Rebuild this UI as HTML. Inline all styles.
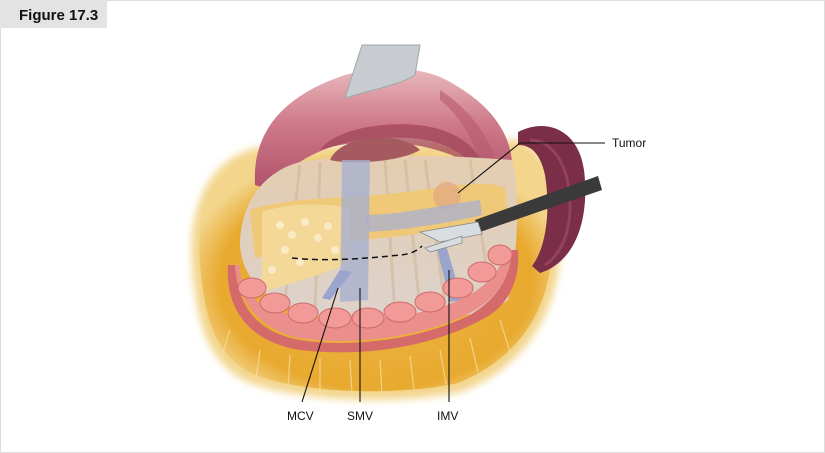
<!DOCTYPE html>
<html><head><style>
html,body{margin:0;padding:0;background:#fff}
svg{display:block}
text{font-family:"Liberation Sans",Arial,sans-serif}
</style></head><body>
<svg width="825" height="453" viewBox="0 0 825 453" xmlns="http://www.w3.org/2000/svg">
<defs>
<radialGradient id="fat" cx="0.5" cy="0.55" r="0.55">
<stop offset="0" stop-color="#efb94a"/><stop offset="0.8" stop-color="#e8a92e"/><stop offset="1" stop-color="#f3d58c"/>
</radialGradient>
<linearGradient id="mes" x1="0" y1="0" x2="0" y2="1">
<stop offset="0" stop-color="#e4cdb0"/><stop offset="1" stop-color="#ddd2cc"/>
</linearGradient>
<linearGradient id="pinkg" x1="0" y1="0" x2="0" y2="1">
<stop offset="0" stop-color="#e9b9be"/><stop offset="0.45" stop-color="#cf7a8a"/><stop offset="1" stop-color="#b0506a"/>
</linearGradient>
<filter id="blur"><feGaussianBlur stdDeviation="4"/></filter>
</defs>
<rect x="0.5" y="0.5" width="824" height="452" fill="#fff" stroke="#ddd"/>
<rect x="0" y="0" width="107" height="28" fill="#e3e3e3"/>
<text x="19" y="20" font-size="15" font-weight="bold" fill="#111">Figure 17.3</text>

<!-- fat -->
<path d="M192 265 C188 205 210 160 255 148 L520 140 C555 155 565 200 560 255 C555 320 520 370 460 392 C400 405 300 402 248 382 C205 362 196 315 192 265 Z" fill="#f3d58c" filter="url(#blur)"/>
<path d="M200 262 C196 210 218 168 258 155 L515 148 C548 162 556 200 552 252 C548 315 515 360 458 383 C400 396 305 394 255 375 C212 355 204 312 200 262 Z" fill="url(#fat)"/>
<g stroke="#f7e2b0" stroke-width="1.2" opacity="0.7">
<line x1="260" y1="350" x2="256" y2="380"/><line x1="290" y1="355" x2="288" y2="388"/><line x1="320" y1="358" x2="320" y2="392"/><line x1="350" y1="360" x2="352" y2="394"/><line x1="380" y1="360" x2="382" y2="394"/><line x1="410" y1="356" x2="414" y2="390"/><line x1="440" y1="350" x2="446" y2="384"/><line x1="470" y1="338" x2="478" y2="372"/><line x1="500" y1="320" x2="510" y2="352"/><line x1="230" y1="330" x2="222" y2="355"/>
</g>
<!-- pink upper -->
<path d="M255 185 C252 130 285 95 345 75 C380 65 425 65 455 85 C495 108 515 140 512 175 C505 190 495 192 485 185 C475 160 450 140 410 138 C350 135 300 150 270 190 Z" fill="url(#pinkg)"/>
<path d="M440 90 C470 110 495 140 500 180 L485 188 C480 150 465 120 440 100 Z" fill="#b85a70" opacity="0.6"/>
<path d="M320 150 C335 128 395 118 435 128 C462 135 480 150 488 175 L458 158 C420 140 360 137 320 150 Z" fill="#a1475a" opacity="0.75"/>
<!-- retractor -->
<path d="M362 45 L420 45 L415 75 C400 85 370 90 345 98 Z" fill="#c8ccd0" stroke="#9aa" stroke-width="1"/>
<!-- mesentery -->
<path d="M240 245 C240 205 262 172 300 162 C360 152 440 155 512 160 C522 200 516 260 508 300 C480 322 400 322 320 316 C272 306 242 282 240 245 Z" fill="url(#mes)"/>
<g stroke="#cdb393" stroke-width="3" opacity="0.5">
<line x1="300" y1="165" x2="285" y2="300"/><line x1="320" y1="162" x2="315" y2="310"/><line x1="385" y1="160" x2="395" y2="315"/><line x1="405" y1="160" x2="420" y2="310"/><line x1="425" y1="160" x2="445" y2="305"/><line x1="470" y1="160" x2="490" y2="290"/>
</g>
<path d="M330 160 C340 135 400 130 420 150 C400 162 350 165 330 160 Z" fill="#a45a5e"/>
<!-- pancreas -->
<path d="M250 210 C290 195 360 200 420 190 C460 185 490 180 505 188 L508 215 C470 225 420 235 380 238 C330 245 290 250 255 258 Z" fill="#efc878"/>
<path d="M262 212 C290 202 330 203 350 208 L350 262 C320 276 285 285 262 292 Z" fill="#f4d898"/>
<g fill="#fbf0d0" opacity="0.8">
<circle cx="280" cy="225" r="4"/><circle cx="292" cy="235" r="4"/><circle cx="305" cy="222" r="4"/><circle cx="318" cy="238" r="4"/><circle cx="285" cy="250" r="4"/><circle cx="300" cy="262" r="4"/><circle cx="328" cy="226" r="4"/><circle cx="272" cy="270" r="4"/><circle cx="335" cy="250" r="4"/>
</g>
<circle cx="447" cy="196" r="14" fill="#e3ad80" opacity="0.85"/>
<!-- veins -->
<path d="M342 160 L370 160 L368 300 L340 302 Z" fill="#a8b0d0" opacity="0.8"/>
<path d="M365 215 C400 215 440 205 480 200 L482 215 C440 225 400 230 368 232 Z" fill="#a8b0d0" opacity="0.75"/>
<path d="M436 245 L446 245 L462 300 L450 302 Z" fill="#9aa4cc"/>
<path d="M340 270 L352 272 L330 300 L322 298 Z" fill="#9aa4cc"/>
<!-- colon -->
<path d="M228 265 C225 310 250 342 300 350 C370 358 440 345 490 315 C512 300 520 275 518 250 L512 250 C510 280 495 300 470 315 C420 340 350 348 300 340 C260 333 238 310 235 265 Z" fill="#d46a6a"/>
<path d="M235 265 C238 300 258 330 300 338 C350 346 420 338 470 313 C495 300 510 280 512 250 L505 250 C500 280 470 300 430 310 C380 322 320 322 280 312 C255 305 240 290 240 265 Z" fill="#ea8f8c"/>
<g fill="#f19a98" stroke="#d06a6c" stroke-width="1">
<ellipse cx="252" cy="288" rx="14" ry="10"/><ellipse cx="275" cy="303" rx="15" ry="10"/><ellipse cx="303" cy="313" rx="15" ry="10"/>
<ellipse cx="335" cy="318" rx="16" ry="10"/><ellipse cx="368" cy="318" rx="16" ry="10"/><ellipse cx="400" cy="312" rx="16" ry="10"/>
<ellipse cx="430" cy="302" rx="15" ry="10"/><ellipse cx="458" cy="288" rx="15" ry="10"/><ellipse cx="482" cy="272" rx="14" ry="10"/><ellipse cx="500" cy="255" rx="12" ry="10"/>
</g>
<!-- spleen -->
<path d="M518 132 C545 118 578 128 584 170 C590 220 575 262 540 273 L532 266 C548 245 550 205 545 175 C540 152 530 145 518 145 Z" fill="#7a2e48"/>
<path d="M530 140 C555 140 570 170 570 205 C570 235 560 255 545 265" fill="none" stroke="#a5506a" stroke-width="3" opacity="0.6"/>
<!-- instrument -->
<path d="M475 220 L598 176 L602 190 L480 232 Z" fill="#3a3a3a"/>
<path d="M420 232 L478 222 L482 234 L440 242 Z" fill="#d8dde2" stroke="#888" stroke-width="0.8"/>
<path d="M425 248 L462 236 L462 243 L430 252 Z" fill="#d8dde2" stroke="#888" stroke-width="0.8"/>
<!-- dashed -->
<path d="M292 258 C330 262 370 258 400 255 C412 254 418 250 422 246" fill="none" stroke="#111" stroke-width="1.5" stroke-dasharray="6,4"/>
<!-- leaders -->
<g stroke="#111" stroke-width="1.1" fill="none">
<polyline points="605,143 520,143 458,193"/>
<line x1="302" y1="402" x2="338" y2="288"/>
<line x1="360" y1="402" x2="360" y2="288"/>
<line x1="449" y1="402" x2="449" y2="270"/>
</g>
<g font-size="12" fill="#111">
<text x="612" y="147">Tumor</text>
<text x="287" y="420">MCV</text>
<text x="347" y="420">SMV</text>
<text x="437" y="420">IMV</text>
</g>
</svg>
</body></html>
